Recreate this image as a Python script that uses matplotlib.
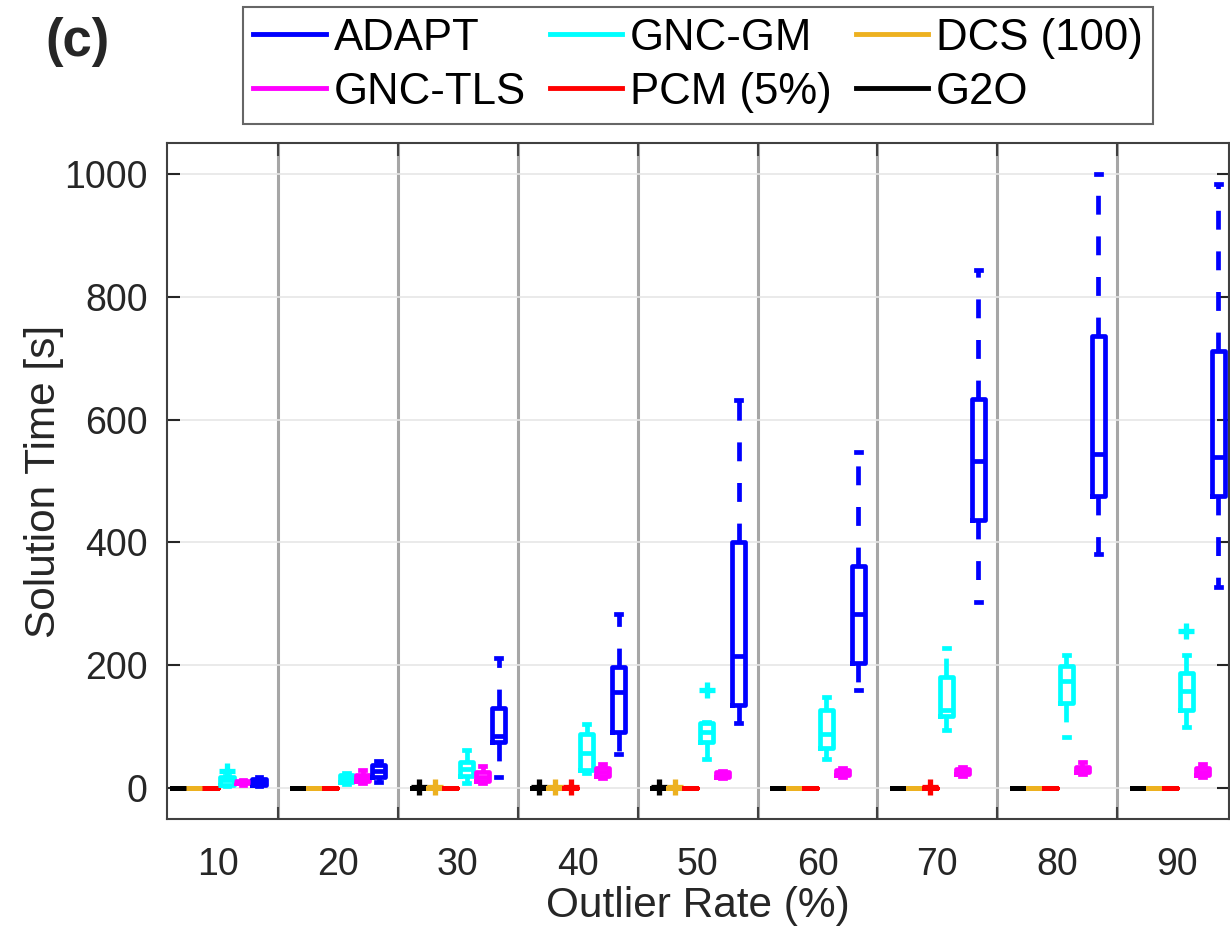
import matplotlib
matplotlib.use("Agg")
import matplotlib.pyplot as plt
from matplotlib.lines import Line2D

plt.rcParams['font.family'] = ['Liberation Sans', 'DejaVu Sans']

# data sets
rates = ['10', '20', '30', '40', '50', '60', '70', '80', '90']

methods = ['G2O', 'DCS (100)', 'PCM (5%)', 'GNC-GM', 'GNC-TLS', 'ADAPT']
colors = ['#000000', '#EDB120', '#FF0000', '#00FFFF', '#FF00FF', '#0000FF']

# G2O
g2o_q1 = [0, 0, 0, 0, 0, 0, 0, 0, 0]
g2o_med = [0.3, 0.3, 0.3, 0.3, 0.3, 0.3, 0.3, 0.3, 0.3]
g2o_q3 = [0.6, 0.6, 0.6, 0.6, 0.6, 0.6, 0.6, 0.6, 0.6]
g2o_lo = [0, 0, 0, 0, 0, 0, 0, 0, 0]
g2o_hi = [1, 1, 1, 1, 1, 1, 1, 1, 1]
g2o_out = [[], [], [2], [2], [2], [], [], [], []]

# DCS (100)
dcs_q1 = [0, 0, 0, 0, 0, 0, 0, 0, 0]
dcs_med = [0.3, 0.3, 0.3, 0.3, 0.3, 0.3, 0.3, 0.3, 0.3]
dcs_q3 = [0.6, 0.6, 0.6, 0.6, 0.6, 0.6, 0.6, 0.6, 0.6]
dcs_lo = [0, 0, 0, 0, 0, 0, 0, 0, 0]
dcs_hi = [1, 1, 1, 1, 1, 1, 1, 1, 1]
dcs_out = [[], [], [2], [2], [2], [], [], [], []]

# PCM (5%)
pcm_q1 = [0, 0, 0, 0, 0, 0, 0, 0, 0]
pcm_med = [0.3, 0.3, 0.3, 0.3, 0.3, 0.3, 0.3, 0.3, 0.3]
pcm_q3 = [0.6, 0.6, 0.6, 0.6, 0.6, 0.6, 0.6, 0.6, 0.6]
pcm_lo = [0, 0, 0, 0, 0, 0, 0, 0, 0]
pcm_hi = [1, 1, 1, 1, 1, 1, 1, 1, 1]
pcm_out = [[], [], [], [2], [], [], [2], [], []]

# GNC-GM
gm_q1 = [6, 10, 20, 30, 76, 65, 117, 138, 127]
gm_med = [13, 16, 32, 57, 91, 88, 128, 174, 158]
gm_q3 = [18, 22, 42, 88, 106, 128, 181, 199, 188]
gm_lo = [3, 7, 8, 25, 48, 48, 95, 84, 99]
gm_hi = [20, 25, 62, 105, 108, 148, 228, 217, 217]
gm_out = [[28], [], [], [], [160], [], [], [], [256]]

# GNC-TLS
tls_q1 = [8, 12, 12, 20, 19, 21, 23, 26, 21]
tls_med = [10, 17, 19, 26, 22, 25, 27, 30, 27]
tls_q3 = [12, 22, 27, 33, 26, 30, 31, 35, 33]
tls_lo = [6, 9, 9, 16, 17, 18, 20, 23, 18]
tls_hi = [14, 30, 36, 40, 28, 33, 35, 42, 40]
tls_out = [[], [], [], [], [], [], [], [], []]

# ADAPT
ad_q1 = [5, 18, 76, 92, 135, 204, 436, 475, 475]
ad_med = [10, 28, 85, 157, 216, 284, 532, 544, 539]
ad_q3 = [15, 38, 130, 197, 401, 361, 633, 736, 711]
ad_lo = [3, 10, 18, 56, 106, 160, 303, 382, 328]
ad_hi = [19, 45, 212, 284, 631, 548, 844, 1000, 983]
ad_out = [[], [], [], [], [], [], [], [], []]

series = [
    (g2o_q1, g2o_med, g2o_q3, g2o_lo, g2o_hi, g2o_out),
    (dcs_q1, dcs_med, dcs_q3, dcs_lo, dcs_hi, dcs_out),
    (pcm_q1, pcm_med, pcm_q3, pcm_lo, pcm_hi, pcm_out),
    (gm_q1, gm_med, gm_q3, gm_lo, gm_hi, gm_out),
    (tls_q1, tls_med, tls_q3, tls_lo, tls_hi, tls_out),
    (ad_q1, ad_med, ad_q3, ad_lo, ad_hi, ad_out),
]

fig = plt.figure(figsize=(12.3, 9.32), dpi=100)
ax = fig.add_axes([0.1358, 0.1212, 0.8632, 0.7254])

centers = list(range(1, len(rates) + 1))
step = 0.1333
lw = 3.4

for k, (q1, med, q3, lo, hi, out) in enumerate(series):
    c = colors[k]
    stats = []
    for i in range(len(rates)):
        stats.append(dict(q1=q1[i], med=med[i], q3=q3[i], whislo=lo[i],
                          whishi=hi[i], fliers=out[i]))
    pos = [x + (k - 2.5) * step + 0.008 for x in centers]
    ax.bxp(stats, positions=pos, widths=0.11, capwidths=0.04,
           manage_ticks=False, showfliers=True,
           boxprops=dict(color=c, linewidth=lw),
           medianprops=dict(color=c, linewidth=lw),
           whiskerprops=dict(color=c, linewidth=lw, linestyle=(0, (4.0, 4.6))),
           capprops=dict(color=c, linewidth=lw),
           flierprops=dict(marker='+', markeredgecolor=c, markersize=12,
                           markeredgewidth=3.8, linestyle='none'))

# group separators
for x in centers[:-1]:
    ax.axvline(x + 0.5, color='#a6a6a6', linewidth=2.2, zorder=0)

ax.set_xlim(0.575, 9.43)
ax.set_ylim(-50, 1050)
ax.set_yticks([0, 200, 400, 600, 800, 1000])
ax.set_xticks(centers)
ax.set_xticklabels(rates)
ax.set_xticks([x + 0.5 for x in centers[:-1]], minor=True)
ax.yaxis.grid(True, color='#e6e6e6', linewidth=1.2, zorder=0)
ax.set_axisbelow(True)

ax.tick_params(axis='y', direction='in', length=9, width=1.5, colors='#262626',
               labelsize=27, pad=14, right=True)
ax.tick_params(axis='x', which='major', length=0, labelsize=27, pad=20,
               colors='#262626')
ax.tick_params(axis='x', which='minor', direction='in', length=9, width=1.5,
               top=True, color='#404040')
for sp in ax.spines.values():
    sp.set_color('#404040')
    sp.set_linewidth(1.5)

ax.set_xlabel('Outlier Rate (%)', fontsize=30.5, color='#262626', labelpad=2)
ax.set_ylabel('Solution Time [s]', fontsize=30.5, color='#262626', labelpad=0)

handles = []
labels = []
for name in ['ADAPT', 'GNC-TLS', 'GNC-GM', 'PCM (5%)', 'DCS (100)', 'G2O']:
    handles.append(Line2D([], [], color=colors[methods.index(name)], linewidth=3.5))
    labels.append(name)
leg = fig.legend(handles, labels, ncol=3, loc='center',
                 bbox_to_anchor=(0.5675, 0.930), fontsize=31.5, frameon=True,
                 fancybox=False, edgecolor='#404040', handlelength=1.65,
                 handletextpad=0.18, columnspacing=0.55, labelspacing=0.3,
                 borderpad=0.25, borderaxespad=0)
leg.get_frame().set_linewidth(1.5)

fig.text(0.063, 0.955, '(c)', fontsize=38, fontweight='bold', color='#262626',
         va='center', ha='center')

fig.savefig('out.png', dpi=100)
